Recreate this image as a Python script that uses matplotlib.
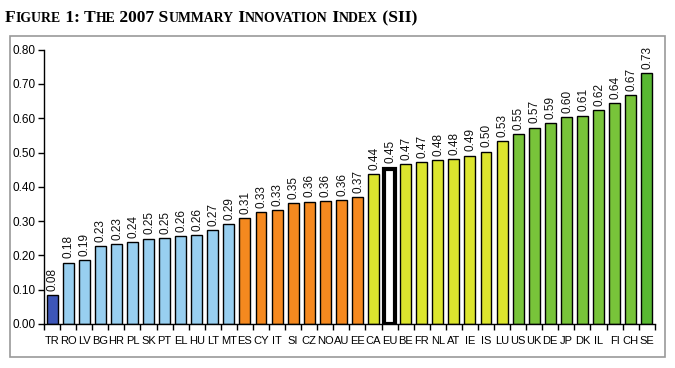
import matplotlib
matplotlib.use("Agg")
import matplotlib.pyplot as plt
from matplotlib.patches import Rectangle

countries = ["TR", "RO", "LV", "BG", "HR", "PL", "SK", "PT", "EL", "HU", "LT", "MT",
             "ES", "CY", "IT", "SI", "CZ", "NO", "AU", "EE",
             "CA", "EU", "BE", "FR", "NL", "AT", "IE", "IS", "LU",
             "US", "UK", "DE", "JP", "DK", "IL", "FI", "CH", "SE"]
values = [0.084, 0.179, 0.186, 0.228, 0.233, 0.240, 0.249, 0.251, 0.256, 0.259, 0.273, 0.292,
          0.309, 0.326, 0.332, 0.353, 0.357, 0.359, 0.362, 0.369,
          0.437, 0.453, 0.466, 0.471, 0.478, 0.480, 0.491, 0.503, 0.534,
          0.553, 0.573, 0.586, 0.603, 0.608, 0.624, 0.644, 0.668, 0.732]
groups = ["dark"] + ["blue"] * 11 + ["orange"] * 8 + ["yellow"] * 9 + ["green"] * 8 + ["dgreen"]
group_colors = {"dark": "#3D56B8", "blue": "#98CFF0", "orange": "#F5891F",
                "yellow": "#DCE52E", "green": "#78C43A", "dgreen": "#58B832"}
highlight = "EU"
yticks = [0.0, 0.1, 0.2, 0.3, 0.4, 0.5, 0.6, 0.7, 0.8]
title = "Figure 1: The 2007 Summary Innovation Index (SII)"

fig = plt.figure(figsize=(6.75, 3.68), dpi=100)
ax = fig.add_axes([0.0652, 0.1196, 0.9048, 0.7454])

x = list(range(len(countries)))
colors = [group_colors[g] for g in groups]
bars = ax.bar(x, values, width=0.68, color=colors, edgecolor="black", linewidth=1.0, zorder=2)
for b, c in zip(bars, countries):
    if c == highlight:
        b.set_facecolor("white")
        b.set_linewidth(3.0)

for xi, v, c in zip(x, values, countries):
    off = 4 if c == highlight else 3
    ax.annotate(f"{v:.2f}", (xi, v), xytext=(0.5, off), textcoords="offset points",
                rotation=90, ha="center", va="bottom", fontsize=8.5,
                family="Liberation Sans", color="#111111")

ax.set_xlim(-0.5, len(countries) - 0.5)
ax.set_ylim(0, 0.8)
ax.set_yticks(yticks)
ax.set_yticklabels([f"{t:.2f}" for t in yticks], fontsize=8.5, family="Liberation Sans")
ax.set_xticks(x)
ax.set_xticklabels(countries, fontsize=8, family="Liberation Sans")
ax.tick_params(axis="x", which="major", length=0, pad=9)
ax.set_xticks([i - 0.5 for i in range(len(countries) + 1)], minor=True)
ax.tick_params(axis="x", which="minor", length=4, width=1, direction="out")
ax.tick_params(axis="y", length=4, width=1, direction="out", pad=2)
for s in ["top", "right"]:
    ax.spines[s].set_visible(False)
for s in ["left", "bottom"]:
    ax.spines[s].set_linewidth(1.0)

# outer frame
fig.patches.append(Rectangle((10 / 675, 1 - 357 / 368), (665 - 10) / 675, (357 - 36) / 368,
                             transform=fig.transFigure, fill=False, edgecolor="#999999",
                             linewidth=1.2))

# small-caps title
renderer = fig.canvas.get_renderer()
big, small = 12.6, 9.9
runs = []
for ch in title:
    kind = "s" if ch.islower() else "b"
    if runs and runs[-1][0] == kind:
        runs[-1][1] += ch
    else:
        runs.append([kind, ch])
xpos = 5 / 675
ybase = 1 - 22 / 368
for kind, txt in runs:
    t = fig.text(xpos, ybase, txt.upper(), fontsize=big if kind == "b" else small,
                 fontweight="bold", family="Liberation Serif", va="baseline", ha="left")
    bb = t.get_window_extent(renderer)
    xpos = bb.x1 / fig.bbox.width

fig.savefig("out.png", dpi=100)
